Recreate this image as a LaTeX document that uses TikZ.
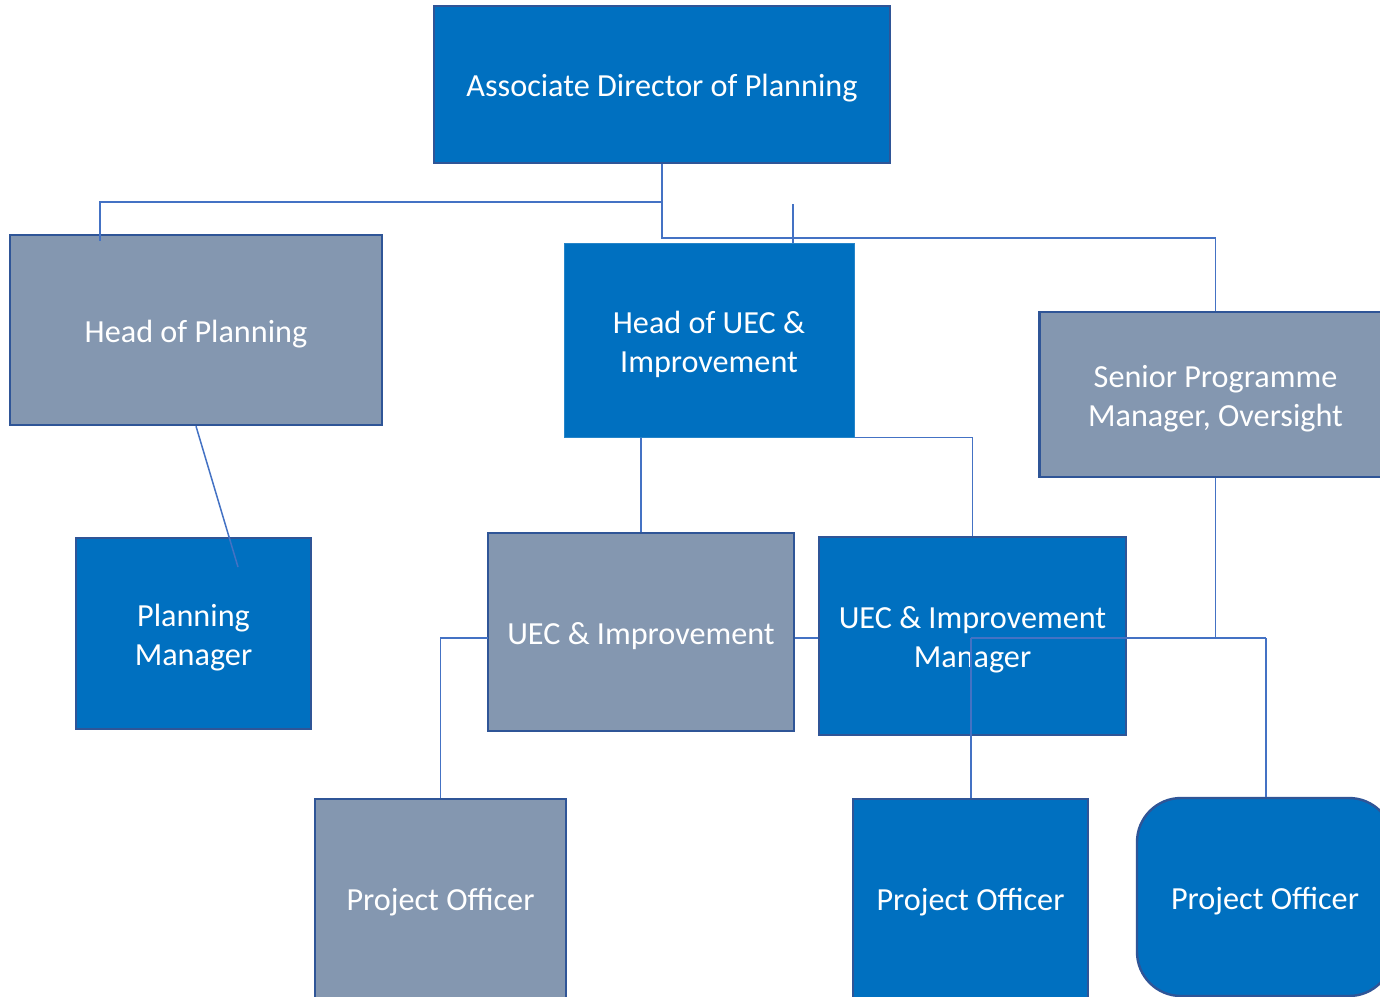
\documentclass[tikz,border=0pt]{standalone}
\usepackage{fontspec}
\setmainfont{Carlito}
\usetikzlibrary{calc}
\definecolor{boxblue}{HTML}{0070C0}
\definecolor{boxgray}{HTML}{8497B0}
\definecolor{edge}{HTML}{2F5597}
\definecolor{conn}{HTML}{4472C4}
\begin{document}
\begin{tikzpicture}[x=0.5pt,y=-0.5pt,
  box/.style={draw=edge,line width=1.2pt,inner sep=0pt},
  bluebox/.style={box,fill=boxblue},
  graybox/.style={box,fill=boxgray},
  txt/.style={text=white,align=center,inner sep=0pt,
    font=\fontsize{16.1pt}{19.5pt}\selectfont},
  link/.style={draw=conn,line width=0.75pt}]
\useasboundingbox (0,0) rectangle (1380,996);
\clip (0,0) rectangle (1380,996);
\fill[white] (0,0) rectangle (1380,996);

\node[bluebox,minimum width=228pt,minimum height=78.5pt] (AD) at (662,84.5) {};
\node[graybox,minimum width=186pt,minimum height=95pt] (HoP) at (196,330) {};
\node[bluebox,draw=boxblue!85!white,line width=0.5pt,minimum width=145pt,minimum height=97pt] (HoUEC) at (709,340) {};
\node[graybox,minimum width=176pt,minimum height=82.5pt] (SPM) at (1215.5,394.5) {};
\node[bluebox,minimum width=117.5pt,minimum height=95.5pt] (PM) at (193.5,633.5) {};
\node[graybox,minimum width=153pt,minimum height=99pt] (UEC) at (641,632) {};
\node[bluebox,minimum width=153.5pt,minimum height=99pt] (UECM) at (972.5,636) {};
\node[graybox,minimum width=125.5pt,minimum height=100pt] (PO1) at (440.5,899) {};
\node[bluebox,minimum width=117.5pt,minimum height=100pt] (PO2) at (970.5,899) {};
\node[bluebox,rounded corners=22pt,minimum width=128pt,minimum height=99pt] (PO3) at (1265,897) {};

% texts
\node[txt] (ADt) at ($(AD.center)+(0,4)$) {Associate Director of Planning};
\node[txt] (HoPt) at ($(HoP.center)+(0,4)$) {Head of Planning};
\node[txt] (HoUECt) at ($(HoUEC.center)+(0,4)$) {Head of UEC \&\\Improvement};
\node[txt] (SPMt) at ($(SPM.center)+(0,4.5)$) {Senior Programme\\Manager, Oversight};
\node[txt] (PMt) at ($(PM.center)+(0,4)$) {Planning\\Manager};
\node[txt] (UECt) at ($(UEC.center)+(0,4)$) {UEC \& Improvement};
\node[txt] (UECMt) at ($(UECM.center)+(0,4)$) {UEC \& Improvement\\Manager};
\node[txt] (PO1t) at ($(PO1.center)+(0,3)$) {Project Officer};
\node[txt] (PO2t) at ($(PO2.center)+(0,3)$) {Project Officer};
\node[txt] (PO3t) at ($(PO3.center)+(0,4)$) {Project Officer};

% junction coordinates
\coordinate (jTop) at (662,238);
\coordinate (jLeft) at (662,202);
\coordinate (hopIn) at (100,241);
\coordinate (uTop) at (793,204);
\coordinate (pmIn) at (238,567);
\coordinate (jUEC) at (488,638);
\coordinate (jPO2) at (971,638);
\coordinate (jPO3) at (1266,638);

\draw[link] (AD.south) |- (jTop) -| (SPM.north);
\draw[link] (jLeft) -| (hopIn);
\draw[link] (uTop) -- (uTop |- HoUEC.north);
\draw[link] (HoP.south) -- (pmIn);
\draw[link] (UEC.north |- HoUEC.south) -- (UEC.north);
\draw[link] (HoUEC.south east) -| (UECM.north);
\draw[link] (jUEC) -| (PO1.north);
\draw[link] (UEC.east |- jUEC) -- (UECM.west |- jUEC);
\draw[link] (SPM.south) -- (SPM.south |- jPO3);
\draw[link] (jPO2) -- (jPO3);
\draw[link] (jPO2) -- (jPO2 |- PO2.north);
\draw[link] (jPO3) -- (jPO3 |- PO3.north);
\end{tikzpicture}
\end{document}
